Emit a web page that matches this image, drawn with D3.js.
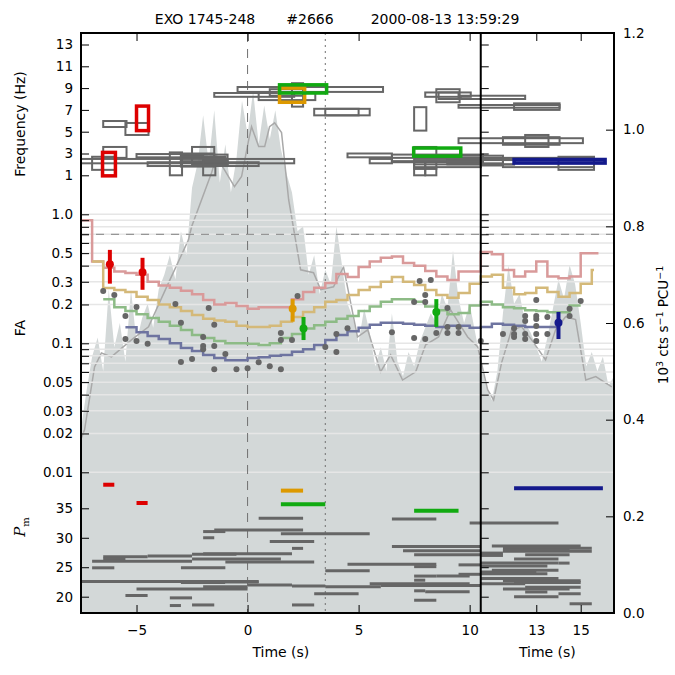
<!DOCTYPE html>
<html>
<head>
<meta charset="utf-8">
<script src="https://cdn.jsdelivr.net/npm/d3@7"></script>
<style>
  body { margin: 0; background: #fff; }
  svg text { font-family: "DejaVu Sans", sans-serif; fill: #000; }
</style>
</head>
<body>
<script>
'use strict';

// ---- data ----
const titleParts = ["EXO 1745-248", "#2666", "2000-08-13 13:59:29"];

const timeTicks = [-5, 0, 5, 10, 13, 15];
const freqTicks = [1, 3, 5, 7, 9, 11, 13];
const faTicks = [1, 0.9, 0.8, 0.7, 0.6, 0.5, 0.4, 0.3, 0.2, 0.1,
                 0.09, 0.08, 0.07, 0.06, 0.05, 0.04, 0.03, 0.02, 0.01];
const faLabels = [1, 0.5, 0.3, 0.2, 0.1, 0.05, 0.03, 0.02, 0.01];
const pmTicks = [20, 25, 30, 35];
const rateTicks = [0, 0.2, 0.4, 0.6, 0.8, 1.0, 1.2];

const faThreshold = 0.7;
const burstTime = 0;      // dashed vertical
const peakTime = 3.5;     // dotted vertical
const panelSplit = 10.5;

// light curve (10^3 cts/s/PCU), 0.25 s bins from -7.5 s
const lcStart = -7.5;
const lcStep = 0.25;
const lcRate = [0.38, 0.46, 0.53, 0.57, 0.50, 0.67, 0.55, 0.60, 0.52, 0.67,
  0.56, 0.61, 0.64, 0.59, 0.67, 0.70, 0.74, 0.69, 0.79, 0.74,
  0.88, 0.93, 1.03, 0.93, 1.04, 0.89, 0.97, 0.87, 0.94, 1.06,
  0.99, 1.08, 0.97, 1.05, 0.98, 1.04, 0.96, 0.91, 0.87, 0.79,
  0.80, 0.70, 0.74, 0.66, 0.71, 0.68, 0.80, 0.72, 0.64, 0.61,
  0.56, 0.63, 0.58, 0.51, 0.55, 0.50, 0.62, 0.52, 0.49, 0.54,
  0.51, 0.56, 0.59, 0.62, 0.60, 0.66, 0.63, 0.75, 0.65, 0.60,
  0.64, 0.58, 0.52, 0.47, 0.44, 0.50, 0.62, 0.72, 0.64, 0.66,
  0.60, 0.58, 0.55, 0.52, 0.57, 0.63, 0.69, 0.65, 0.72, 0.68,
  0.60, 0.51, 0.54, 0.50, 0.53, 0.47, 0.49];

// smoothed light curve
const smoothTime = [-7.5, -7.34, -6.89, -6.58, -6.13, -5.23, -4.46, -3.56, -2.66, -2.52,
  -1.62, -1.40, -1.04, -0.59, -0.27, 0.05, 0.18, 0.50, 0.77, 0.99,
  1.22, 1.53, 1.85, 2.39, 2.97, 3.29, 3.87, 4.32, 4.95, 5.41,
  5.99, 6.44, 6.98, 7.57, 8.02, 8.60, 9.14, 9.91, 10.36, 10.81,
  11.08, 11.44, 11.89, 12.34, 12.79, 13.42, 13.87, 14.32, 14.77, 15.23,
  15.68, 16.40];
const smoothRate = [0.36, 0.379, 0.509, 0.538, 0.530, 0.565, 0.592, 0.683, 0.772, 0.799,
  0.911, 0.944, 0.917, 0.882, 0.903, 0.979, 1.006, 0.965, 0.965, 1.006,
  1.014, 0.994, 0.855, 0.710, 0.704, 0.669, 0.675, 0.716, 0.571, 0.586,
  0.499, 0.534, 0.482, 0.499, 0.555, 0.571, 0.627, 0.571, 0.551, 0.462,
  0.441, 0.518, 0.586, 0.592, 0.565, 0.524, 0.586, 0.613, 0.607, 0.482,
  0.489, 0.468];

// FA threshold curves, 0.5 s steps
const stepWidth = 0.5;
const pinkStart = -7.5, pinkEnd = 15.8;
const pinkFA = [0.90, 0.43, 0.385, 0.36, 0.35, 0.34, 0.30, 0.28, 0.27, 0.255,
  0.24, 0.217, 0.20, 0.205, 0.195, 0.185, 0.19, 0.19, 0.19, 0.22,
  0.25, 0.27, 0.293, 0.345, 0.327, 0.39, 0.43, 0.46, 0.47, 0.42,
  0.40, 0.363, 0.33, 0.31, 0.36, 0.36, 0.51, 0.49, 0.37, 0.33,
  0.36, 0.43, 0.33, 0.32, 0.33, 0.50, 0.50];
const tanStart = -7.0, tanEnd = 15.6;
const tanFA = [0.43, 0.268, 0.259, 0.25, 0.23, 0.217, 0.20, 0.19, 0.178, 0.166,
  0.155, 0.15, 0.147, 0.137, 0.134, 0.134, 0.137, 0.147, 0.16, 0.175,
  0.19, 0.21, 0.217, 0.237, 0.259, 0.273, 0.30, 0.327, 0.30, 0.283,
  0.259, 0.237, 0.225, 0.245, 0.29, 0.33, 0.34, 0.27, 0.24, 0.245,
  0.27, 0.25, 0.23, 0.245, 0.29, 0.37];
const greenStart = -6.5, greenEnd = 15.0;
const greenFA = [0.22, 0.19, 0.178, 0.168, 0.157, 0.147, 0.137, 0.127, 0.116, 0.11,
  0.104, 0.10, 0.10, 0.099, 0.097, 0.10, 0.11, 0.118, 0.13, 0.138,
  0.147, 0.155, 0.163, 0.178, 0.193, 0.21, 0.22, 0.22, 0.21, 0.193,
  0.18, 0.168, 0.172, 0.196, 0.21, 0.20, 0.19, 0.187, 0.18, 0.178,
  0.174, 0.174, 0.196];
const blueStart = -5.5, blueEnd = 14.0;
const blueFA = [0.133, 0.122, 0.114, 0.108, 0.10, 0.092, 0.087, 0.081, 0.077, 0.074,
  0.074, 0.077, 0.078, 0.08, 0.081, 0.086, 0.09, 0.097, 0.106, 0.116,
  0.124, 0.132, 0.139, 0.144, 0.144, 0.142, 0.139, 0.137, 0.134, 0.137,
  0.137, 0.132, 0.134, 0.142, 0.139, 0.137, 0.134, 0.134, 0.134];

// candidate FA values (grey dots)
const dotTime = [-6.5, -6.0, -5.5, -5.0, -5.5, -5.0, -4.5, -3.25, -3.0, -3.0,
  -2.5, -2.0, -2.0, -2.0, -1.5, -1.75, -1.5, -1.0, -1.5, -0.5,
  0, 0.5, 1.0, 1.5, 1.5, 1.5, 2.0, 2.25, 3.5, 4.0,
  4.0, 4.5, 6.5, 7.5, 8.0, 8.5, 7.5, 7.75, 8.0, 8.0,
  8.25, 9.0, 9.0, 9.0, 9.5, 9.5, 10.5, 11.5, 12.0, 12.0,
  12.0, 12.5, 12.5, 12.5, 12.5, 13.0, 13.0, 13.0, 13.0, 13.0,
  13.0, 13.5, 13.5, 14.5, 14.5, 15.0];
const dotFA = [0.254, 0.237, 0.163, 0.191, 0.108, 0.104, 0.099, 0.202, 0.144, 0.0717,
  0.0755, 0.112, 0.0953, 0.090, 0.0953, 0.188, 0.139, 0.0826, 0.063, 0.063,
  0.064, 0.0714, 0.0665, 0.063, 0.12, 0.106, 0.106, 0.233, 0.0935, 0.118,
  0.0855, 0.131, 0.122, 0.11, 0.108, 0.12, 0.209, 0.304, 0.209, 0.237,
  0.31, 0.188, 0.134, 0.12, 0.134, 0.12, 0.104, 0.118, 0.131, 0.118,
  0.112, 0.163, 0.149, 0.118, 0.108, 0.217, 0.163, 0.154, 0.136, 0.118,
  0.104, 0.16, 0.118, 0.185, 0.163, 0.213];

// detections: FA with error range
const detClass = ["red", "red", "orange", "green", "green", "blue"];
const detTime = [-6.2, -4.73, 2.03, 2.52, 8.5, 14.0];
const detFA = [0.41, 0.355, 0.185, 0.13, 0.175, 0.144];
const detFALo = [0.29, 0.26, 0.147, 0.106, 0.134, 0.108];
const detFAHi = [0.53, 0.46, 0.22, 0.16, 0.22, 0.175];

// detection boxes in frequency: [t0, t1, f0, f1]
const detBoxClass = ["red", "red", "orange", "green", "green", "blue"];
const detBoxes = [[-6.53, -5.95, 0.95, 3.1], [-5.0, -4.46, 5.1, 7.35], [1.44, 2.57, 7.7, 9.0],
  [1.44, 3.56, 8.55, 9.3], [7.48, 9.6, 2.76, 3.5], [12.0, 16.1, 2.12, 2.45]];

// other candidate boxes: [t0, t1, f0, f1]
const greyBoxes = [
  [-6.5, -5.45, 5.43, 5.98], [-5.5, -4.46, 4.7, 5.8], [-6.5, -5.45, 2.6, 3.6],
  [-7.0, -5.95, 1.5, 2.7], [-7.5, 2.1, 2.1, 2.5], [-5.0, -2.5, 2.65, 2.95],
  [-4.5, 0.5, 1.85, 2.2], [-3.5, -2.95, 1.0, 3.1], [-2.5, -1.5, 2.6, 3.6],
  [-2.0, -1.45, 1.0, 2.7], [-3.0, -1.5, 1.8, 3.0], [-2.5, -0.9, 2.0, 2.9],
  [-3.0, -2.0, 2.2, 2.8], [-2.5, -1.0, 2.2, 2.6], [-3.0, -1.0, 2.3, 2.7],
  [-2.0, -0.9, 1.9, 2.4], [-1.5, 2.1, 8.2, 8.55], [-0.45, 6.1, 8.65, 9.1],
  [0.5, 3.05, 7.9, 8.55], [2.0, 2.5, 7.3, 9.45], [1.0, 2.5, 8.3, 8.9],
  [3.0, 5.5, 6.5, 7.1], [3.5, 5.0, 6.5, 7.1], [8.0, 10.05, 8.2, 8.6],
  [8.5, 9.55, 7.7, 8.9], [8.6, 9.5, 8.0, 8.6], [9.6, 12.5, 8.0, 8.3],
  [9.5, 14.05, 7.2, 7.45], [12.0, 14.05, 7.0, 7.6], [7.5, 8.05, 5.1, 7.25],
  [9.5, 15.1, 3.95, 4.4], [11.5, 14.05, 3.8, 4.5], [12.5, 13.55, 3.6, 4.7],
  [4.5, 6.5, 2.65, 3.0], [5.5, 6.5, 2.1, 2.5], [6.5, 10.6, 2.2, 2.9],
  [7.5, 10.5, 1.75, 2.3], [7.5, 8.0, 1.0, 1.6], [8.0, 8.5, 1.0, 1.6],
  [7.5, 8.0, 1.6, 2.2], [8.0, 8.5, 1.6, 2.2], [7.5, 8.5, 2.8, 3.6],
  [10.5, 11.5, 1.9, 2.5], [11.5, 15.6, 1.75, 2.6], [14.0, 15.6, 1.5, 2.7],
  [9.0, 12.0, 2.0, 2.4], [9.5, 11.5, 2.4, 2.8], [6.5, 10.5, 2.3, 2.6],
  [7.5, 10.5, 2.0, 2.5], [9.0, 11.5, 2.1, 2.6], [10.5, 12.0, 2.0, 2.5]];

// P_m segments: [t0, t1, Pm]
const detPmClass = ["red", "red", "orange", "green", "green", "blue"];
const detPm = [[-6.5, -6.0, 39.0], [-5.0, -4.5, 35.9], [1.5, 2.5, 38.0],
  [1.5, 3.5, 35.7], [7.5, 9.5, 34.6], [12.0, 16.0, 38.4]];
const greyPm = [
  [0.5, 2.5, 33.3], [6.5, 8.5, 33.2], [10.0, 14.0, 32.5], [-2.0, -1.0, 31.05],
  [-1.5, 2.5, 31.3], [1.5, 5.5, 30.7], [-2.0, -1.5, 30.0], [1.0, 3.0, 29.35],
  [2.0, 2.5, 28.2], [6.5, 10.5, 28.5], [7.0, 10.5, 27.8], [7.5, 10.5, 27.1],
  [-6.5, -4.5, 26.8], [-6.5, -5.5, 26.4], [-4.5, -2.5, 26.9], [-2.5, -0.5, 27.2],
  [-2.0, 2.0, 27.3], [-2.5, 1.5, 26.4], [-7.0, -2.5, 26.0], [-1.0, 3.0, 25.9],
  [-7.0, -6.0, 24.9], [-3.0, -1.0, 24.9], [4.5, 8.5, 25.5], [7.5, 8.5, 25.1],
  [9.5, 10.5, 25.4], [3.5, 5.5, 24.4], [-7.5, 0.5, 22.6], [-3.0, -1.0, 22.4],
  [-1.0, 0.5, 22.5], [-5.0, 0.0, 21.3], [-2.0, 0.0, 21.7], [0.0, 2.0, 22.0],
  [2.0, 3.5, 21.8], [3.5, 6.0, 21.7], [5.5, 10.0, 22.2], [6.0, 10.5, 21.9],
  [7.5, 8.5, 23.5], [8.5, 10.0, 23.5], [7.5, 8.0, 22.8], [9.5, 10.5, 23.8],
  [-5.5, -4.5, 20.2], [-3.5, -2.5, 19.8], [-3.5, -3.0, 18.5], [-2.5, -1.5, 18.6],
  [2.0, 3.0, 18.6], [3.0, 5.0, 20.5], [7.5, 8.5, 19.4], [7.5, 8.0, 21.0],
  [8.0, 10.0, 20.85], [11.0, 15.0, 28.6], [11.5, 15.5, 28.2], [11.5, 15.5, 27.7],
  [10.5, 11.5, 27.4], [12.5, 14.5, 27.1], [12.0, 14.0, 26.4], [10.5, 14.0, 25.7],
  [10.5, 13.5, 25.2], [14.0, 14.5, 25.7], [10.5, 13.5, 23.9], [10.5, 14.0, 23.1],
  [11.5, 15.0, 22.7], [10.5, 12.5, 22.2], [12.5, 15.0, 21.6], [12.5, 13.5, 20.8],
  [14.0, 15.0, 20.5], [12.0, 14.0, 20.0], [14.5, 15.5, 18.8], [10.5, 11.5, 27.0],
  [11.5, 14.5, 27.9], [11.0, 14.0, 24.5], [10.5, 13.0, 24.2], [12.0, 15.0, 22.4],
  [11.5, 14.5, 21.3]];

// ---- styles ----
const detColor = { red: "#dd0000", orange: "#dd9900", green: "#11aa11", blue: "#141a8c" };
const greyMark = "#666666";

// ---- layout ----
const plot = { left: 81, right: 614, top: 33, bottom: 613 };

const svg = d3.select('body').append('svg')
  .attr('width', 675)
  .attr('height', 675);

const x = d3.scaleLinear().domain([-7.5, 16.5]).range([plot.left, plot.right]);
const yRate = d3.scaleLinear().domain([0, 1.2]).range([plot.bottom, plot.top]);
const yFreq = d3.scaleLinear().domain([1, 13]).range([175.3, 44.5]);
const yFA = d3.scaleLog().domain([1, 0.01]).range([214.3, 472.3]);
const yPm = d3.scaleLinear().domain([20, 35]).range([596.7, 508.3]);

svg.append('defs').append('clipPath').attr('id', 'plotclip')
  .append('rect')
  .attr('x', plot.left).attr('y', plot.top)
  .attr('width', plot.right - plot.left).attr('height', plot.bottom - plot.top);

const g = svg.append('g').attr('clip-path', 'url(#plotclip)');

// light curve fill
const lcData = lcRate.map((r, i) => ({ t: lcStart + i * lcStep, r: r }));
g.append('path')
  .datum(lcData)
  .attr('d', d3.area().x(d => x(d.t)).y0(yRate(0)).y1(d => yRate(d.r)))
  .attr('fill', '#d3d8d8');

// smoothed light curve
g.append('path')
  .datum(smoothTime.map((t, i) => ({ t: t, r: smoothRate[i] })))
  .attr('d', d3.line().x(d => x(d.t)).y(d => yRate(d.r)))
  .attr('fill', 'none')
  .attr('stroke', '#a9a9a9')
  .attr('stroke-width', 1.5);

// FA grid lines
g.selectAll('.grid')
  .data(faTicks)
  .enter()
  .append('line')
  .attr('x1', plot.left).attr('x2', plot.right)
  .attr('y1', d => yFA(d)).attr('y2', d => yFA(d))
  .attr('stroke', '#e6e6e6')
  .attr('stroke-width', 1.5);

// threshold dashed line
g.append('line')
  .attr('x1', plot.left).attr('x2', plot.right)
  .attr('y1', yFA(faThreshold)).attr('y2', yFA(faThreshold))
  .attr('stroke', '#808080')
  .attr('stroke-dasharray', '8,7');

// vertical markers, left panel only
g.append('line')
  .attr('x1', x(burstTime)).attr('x2', x(burstTime))
  .attr('y1', plot.top).attr('y2', plot.bottom)
  .attr('stroke', '#707070')
  .attr('stroke-dasharray', '9,7');
g.append('line')
  .attr('x1', x(peakTime)).attr('x2', x(peakTime))
  .attr('y1', plot.top).attr('y2', plot.bottom)
  .attr('stroke', '#707070')
  .attr('stroke-dasharray', '2,4');

// FA step curves
function stepPoints(start, end, values) {
  const pts = values.map((v, i) => ({ t: start + i * stepWidth, v: v }));
  pts.push({ t: end, v: values[values.length - 1] });
  return pts;
}
const stepLine = d3.line().x(d => x(d.t)).y(d => yFA(d.v)).curve(d3.curveStepAfter);
const curves = [
  { pts: stepPoints(pinkStart, pinkEnd, pinkFA), color: '#d99a9a' },
  { pts: stepPoints(tanStart, tanEnd, tanFA), color: '#d4b979' },
  { pts: stepPoints(greenStart, greenEnd, greenFA), color: '#8dbb86' },
  { pts: stepPoints(blueStart, blueEnd, blueFA), color: '#6e74a0' }
];
curves.forEach(c => {
  g.append('path')
    .datum(c.pts)
    .attr('d', stepLine)
    .attr('fill', 'none')
    .attr('stroke', c.color)
    .attr('stroke-width', 2.5);
});

// grey candidate dots
g.selectAll('.dot')
  .data(dotTime.map((t, i) => ({ t: t, fa: dotFA[i] })))
  .enter()
  .append('circle')
  .attr('cx', d => x(d.t))
  .attr('cy', d => yFA(d.fa))
  .attr('r', 3)
  .attr('fill', greyMark);

// detection error bars
const dets = detTime.map((t, i) => ({ t: t, fa: detFA[i], lo: detFALo[i], hi: detFAHi[i], c: detClass[i] }));
g.selectAll('.errbar')
  .data(dets)
  .enter()
  .append('line')
  .attr('x1', d => x(d.t)).attr('x2', d => x(d.t))
  .attr('y1', d => yFA(d.hi)).attr('y2', d => yFA(d.lo))
  .attr('stroke', d => detColor[d.c])
  .attr('stroke-width', 4);
g.selectAll('.errdot')
  .data(dets)
  .enter()
  .append('circle')
  .attr('cx', d => x(d.t))
  .attr('cy', d => yFA(d.fa))
  .attr('r', 4)
  .attr('fill', d => detColor[d.c]);

// frequency boxes
g.selectAll('.gbox')
  .data(greyBoxes)
  .enter()
  .append('rect')
  .attr('x', d => x(d[0]))
  .attr('y', d => yFreq(d[3]))
  .attr('width', d => x(d[1]) - x(d[0]))
  .attr('height', d => yFreq(d[2]) - yFreq(d[3]))
  .attr('fill', 'none')
  .attr('stroke', greyMark)
  .attr('stroke-width', 2);
g.selectAll('.dbox')
  .data(detBoxes)
  .enter()
  .append('rect')
  .attr('x', d => x(d[0]))
  .attr('y', d => yFreq(d[3]))
  .attr('width', d => x(d[1]) - x(d[0]))
  .attr('height', d => yFreq(d[2]) - yFreq(d[3]))
  .attr('fill', 'none')
  .attr('stroke', (d, i) => detColor[detBoxClass[i]])
  .attr('stroke-width', 3.5);

// P_m segments
g.selectAll('.gpm')
  .data(greyPm)
  .enter()
  .append('line')
  .attr('x1', d => x(d[0])).attr('x2', d => x(d[1]))
  .attr('y1', d => yPm(d[2])).attr('y2', d => yPm(d[2]))
  .attr('stroke', greyMark)
  .attr('stroke-width', 3);
g.selectAll('.dpm')
  .data(detPm)
  .enter()
  .append('line')
  .attr('x1', d => x(d[0])).attr('x2', d => x(d[1]))
  .attr('y1', d => yPm(d[2])).attr('y2', d => yPm(d[2]))
  .attr('stroke', (d, i) => detColor[detPmClass[i]])
  .attr('stroke-width', 4);

// ---- axes ----
const tickFont = '13.5px';
function styleAxis(sel) {
  sel.select('.domain').remove();
  sel.selectAll('text').style('font-size', tickFont).style('font-family', '"DejaVu Sans", sans-serif');
  sel.selectAll('line').attr('stroke', '#000');
}
const fmtFA = v => (faLabels.indexOf(v) >= 0 ? (v === 1 ? '1.0' : String(v)) : '');

svg.append('g').attr('transform', `translate(${plot.left},0)`)
  .call(d3.axisLeft(yFreq).tickValues(freqTicks).tickSize(-8).tickPadding(8))
  .call(styleAxis);
svg.append('g').attr('transform', `translate(${plot.left},0)`)
  .call(d3.axisLeft(yFA).tickValues(faTicks).tickFormat(fmtFA).tickSize(-8).tickPadding(8))
  .call(styleAxis);
svg.append('g').attr('transform', `translate(${plot.left},0)`)
  .call(d3.axisLeft(yPm).tickValues(pmTicks).tickSize(-8).tickPadding(8))
  .call(styleAxis);

// separator ticks for right panel
[[yFreq, freqTicks], [yFA, faTicks], [yPm, pmTicks]].forEach(p => {
  svg.append('g').attr('transform', `translate(${x(panelSplit)},0)`)
    .call(d3.axisRight(p[0]).tickValues(p[1]).tickFormat('').tickSize(8))
    .call(styleAxis);
});

// right rate axis
svg.append('g').attr('transform', `translate(${plot.right},0)`)
  .call(d3.axisRight(yRate).tickValues(rateTicks).tickFormat(d3.format('.1f')).tickSize(-8).tickPadding(9))
  .call(styleAxis);

// time axes
svg.append('g').attr('transform', `translate(0,${plot.bottom})`)
  .call(d3.axisBottom(x).tickValues(timeTicks).tickFormat(d => d < 0 ? '\u2212' + Math.abs(d) : String(d))
    .tickSize(-8).tickPadding(12))
  .call(styleAxis);
svg.append('g').attr('transform', `translate(0,${plot.top})`)
  .call(d3.axisTop(x).tickValues(timeTicks).tickFormat('').tickSize(-8))
  .call(styleAxis);

// frame
const frame = svg.append('g').attr('stroke', '#000').attr('stroke-width', 2).attr('fill', 'none');
frame.append('rect')
  .attr('x', plot.left).attr('y', plot.top)
  .attr('width', plot.right - plot.left).attr('height', plot.bottom - plot.top);
frame.append('line')
  .attr('x1', x(panelSplit)).attr('x2', x(panelSplit))
  .attr('y1', plot.top).attr('y2', plot.bottom);

// ---- labels ----
const titleX = [205, 310, 445];
svg.selectAll('.title')
  .data(titleParts)
  .enter()
  .append('text')
  .attr('x', (d, i) => titleX[i])
  .attr('y', 24)
  .attr('text-anchor', 'middle')
  .style('font-size', '14px')
  .text(d => d);

svg.append('text')
  .attr('x', (x(-7.5) + x(10.5)) / 2)
  .attr('y', 657)
  .attr('text-anchor', 'middle')
  .style('font-size', '14px')
  .text('Time (s)');
svg.append('text')
  .attr('x', (x(10.5) + x(16.5)) / 2)
  .attr('y', 657)
  .attr('text-anchor', 'middle')
  .style('font-size', '14px')
  .text('Time (s)');

svg.append('text')
  .attr('transform', 'translate(25,124) rotate(-90)')
  .attr('text-anchor', 'middle')
  .style('font-size', '14px')
  .text('Frequency (Hz)');
svg.append('text')
  .attr('transform', 'translate(25,328) rotate(-90)')
  .attr('text-anchor', 'middle')
  .style('font-size', '14px')
  .text('FA');

const pmLabel = svg.append('text')
  .attr('transform', 'translate(25,527) rotate(-90)')
  .attr('text-anchor', 'middle')
  .style('font-size', '15px')
  .style('font-family', '"DejaVu Serif", serif');
pmLabel.append('tspan').style('font-style', 'italic').style('font-family', '"DejaVu Serif", serif').text('P');
pmLabel.append('tspan').attr('dy', 4).style('font-size', '10px').style('font-family', '"DejaVu Serif", serif').text('m');

const rateLabel = svg.append('text')
  .attr('transform', 'translate(668,325) rotate(-90)')
  .attr('text-anchor', 'middle')
  .style('font-size', '13.5px');
rateLabel.append('tspan').text('10');
rateLabel.append('tspan').attr('dy', -5).style('font-size', '9.5px').text('3');
rateLabel.append('tspan').attr('dy', 5).text(' cts s');
rateLabel.append('tspan').attr('dy', -5).style('font-size', '9.5px').text('\u22121');
rateLabel.append('tspan').attr('dy', 5).text(' PCU');
rateLabel.append('tspan').attr('dy', -5).style('font-size', '9.5px').text('\u22121');
</script>
</body>
</html>
